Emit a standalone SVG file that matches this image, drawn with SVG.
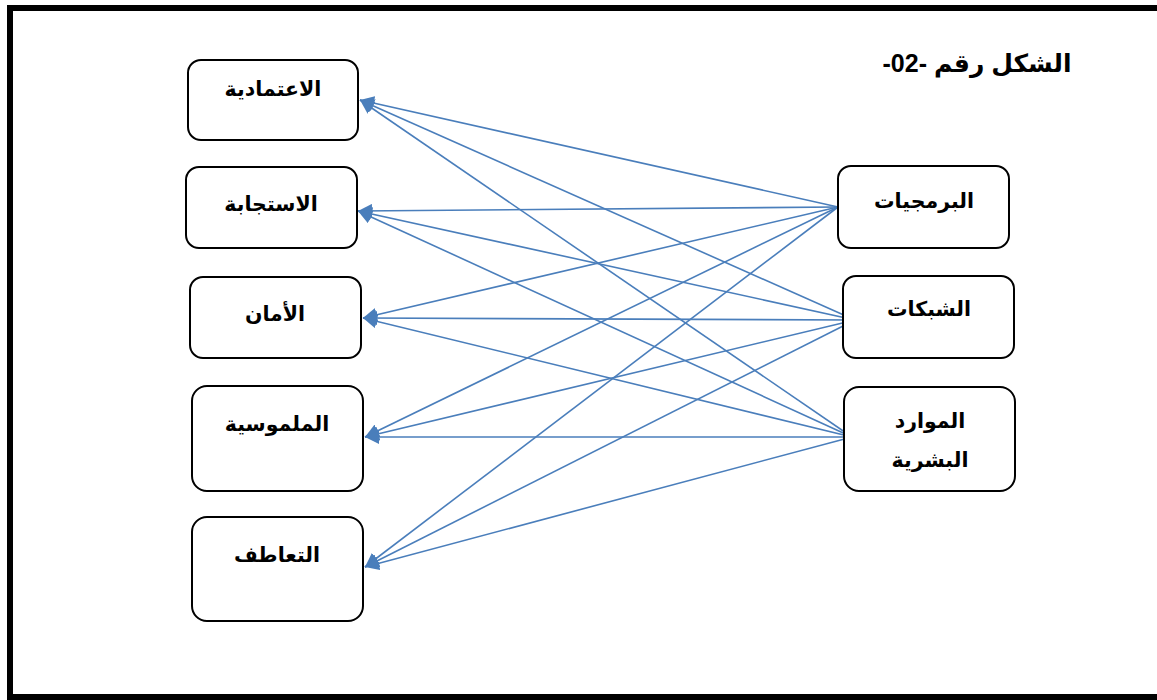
<svg xmlns="http://www.w3.org/2000/svg" width="1157" height="700" viewBox="0 0 1157 700">
<style>
.box{fill:#fff;stroke:#000;stroke-width:2}
.t{font-family:"Liberation Sans","DejaVu Sans",sans-serif;font-weight:bold;font-size:20.5px;text-anchor:middle;direction:rtl;fill:#000}
.c{stroke:#4A7EBB;stroke-width:1.6;fill:none;marker-end:url(#ah)}
</style>
<defs>
<marker id="ah" markerUnits="userSpaceOnUse" markerWidth="16" markerHeight="14" refX="14" refY="7" orient="auto">
<path d="M0,0 L14,7 L0,14 Z" fill="#4A7EBB"/>
</marker>
</defs>
<rect x="0" y="0" width="1157" height="700" fill="#fff"/>
<rect x="10" y="8" width="1160" height="689" fill="none" stroke="#000" stroke-width="6"/>
<text class="t" x="977" y="72" style="font-size:25px">الشكل رقم -02-</text>
<g id="connectors">
<line class="c" x1="838" y1="207" x2="360" y2="100"/>
<line class="c" x1="838" y1="207" x2="358" y2="211"/>
<line class="c" x1="838" y1="207" x2="363" y2="318"/>
<line class="c" x1="838" y1="207" x2="365" y2="437"/>
<line class="c" x1="838" y1="207" x2="365" y2="567"/>
<line class="c" x1="855" y1="320" x2="360" y2="100"/>
<line class="c" x1="855" y1="320" x2="358" y2="211"/>
<line class="c" x1="855" y1="320" x2="363" y2="318"/>
<line class="c" x1="855" y1="320" x2="365" y2="437"/>
<line class="c" x1="855" y1="320" x2="365" y2="567"/>
<line class="c" x1="852" y1="437" x2="360" y2="100"/>
<line class="c" x1="852" y1="437" x2="358" y2="211"/>
<line class="c" x1="852" y1="437" x2="363" y2="318"/>
<line class="c" x1="852" y1="437" x2="365" y2="437"/>
<line class="c" x1="852" y1="437" x2="365" y2="567"/>
</g>
<g id="n1"><rect class="box" x="188" y="60" width="170" height="80" rx="13"/><text class="t" x="273" y="96">الاعتمادية</text></g>
<g id="n2"><rect class="box" x="186" y="167" width="171" height="81" rx="13"/><text class="t" x="271" y="211">الاستجابة</text></g>
<g id="n3"><rect class="box" x="190" y="277" width="171" height="81" rx="13"/><text class="t" x="275" y="321">الأمان</text></g>
<g id="n4"><rect class="box" x="192" y="386" width="171" height="105" rx="15"/><text class="t" x="277" y="431">الملموسية</text></g>
<g id="n5"><rect class="box" x="192" y="517" width="171" height="104" rx="15"/><text class="t" x="277" y="562">التعاطف</text></g>
<g id="n6"><rect class="box" x="838" y="166" width="171" height="82" rx="13"/><text class="t" x="924" y="208">البرمجيات</text></g>
<g id="n7"><rect class="box" x="843" y="276" width="171" height="82" rx="13"/><text class="t" x="929" y="316">الشبكات</text></g>
<g id="n8"><rect class="box" x="844" y="387" width="171" height="104" rx="15"/><text class="t" x="930" y="428">الموارد</text><text class="t" x="930" y="467">البشرية</text></g>
</svg>
